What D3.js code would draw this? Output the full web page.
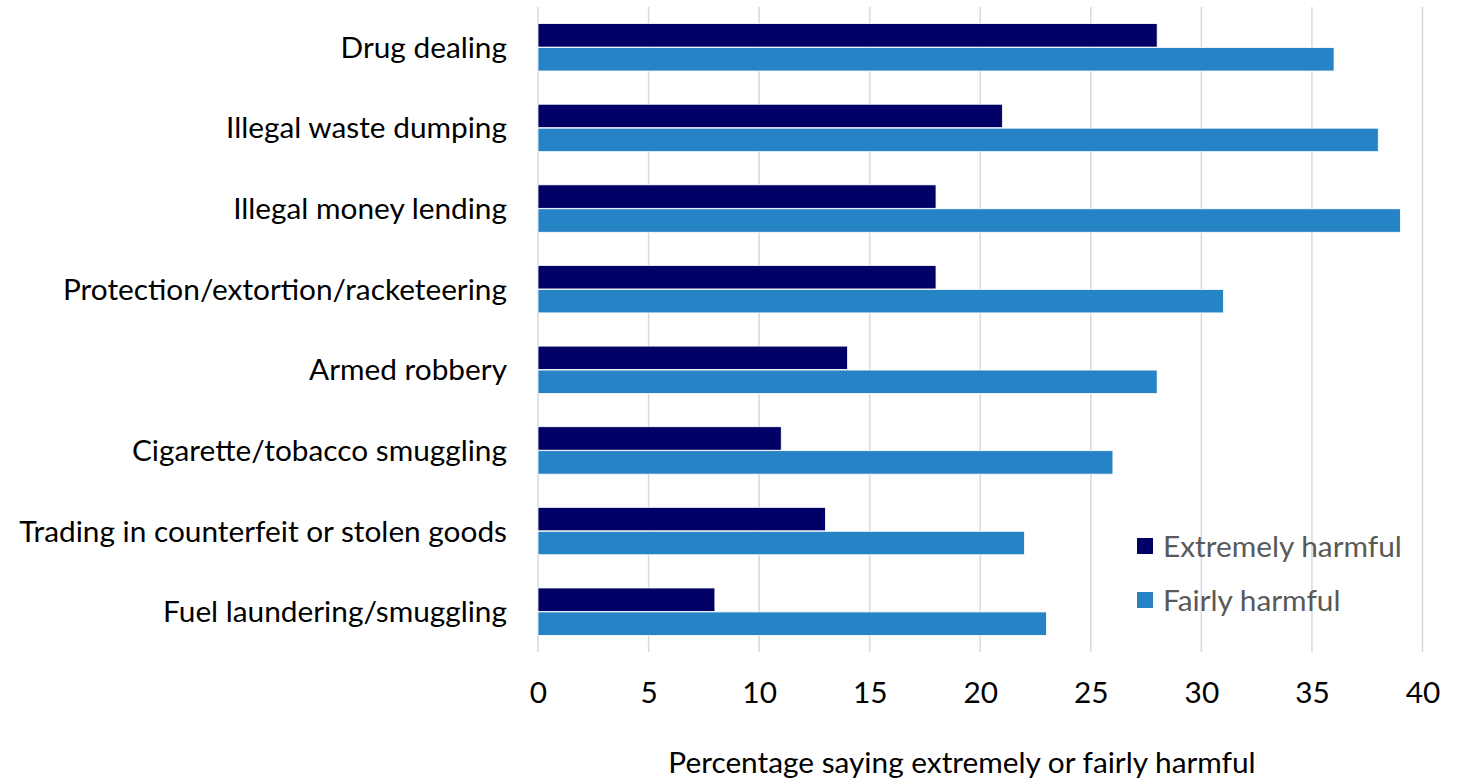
<!DOCTYPE html>
<html>
<head>
<meta charset="utf-8">
<script src="https://cdn.jsdelivr.net/npm/d3@7"></script>
<style>
  html, body { margin: 0; padding: 0; background: #fff; }
  svg { display: block; font-family: Lato, "Open Sans", sans-serif; }
</style>
</head>
<body>
<svg id="chart" width="1468" height="779"></svg>
<script>
const categories = [
  "Drug dealing",
  "Illegal waste dumping",
  "Illegal money lending",
  "Protection/extortion/racketeering",
  "Armed robbery",
  "Cigarette/tobacco smuggling",
  "Trading in counterfeit or stolen goods",
  "Fuel laundering/smuggling"
];
const extremelyHarmful = [28, 21, 18, 18, 14, 11, 13, 8];
const fairlyHarmful = [36, 38, 39, 31, 28, 26, 22, 23];
const seriesNames = ["Extremely harmful", "Fairly harmful"];
const seriesColors = ["#000066", "#2683c6"];
const xTicks = [0, 5, 10, 15, 20, 25, 30, 35, 40];
const xTitle = "Percentage saying extremely or fairly harmful";

const svg = d3.select("#chart");
const plotLeft = 538, plotRight = 1422.5, plotTop = 7, plotBottom = 652;
const fontSize = 29.8;

const x = d3.scaleLinear().domain([0, 40]).range([plotLeft, plotRight]);
const y = d3.scaleBand().domain(categories).range([plotTop, plotBottom]).paddingInner(0.4).paddingOuter(0.2);
const ySub = d3.scaleBand().domain(seriesNames).range([0, y.bandwidth()]).padding(0.02);

// vertical gridlines
svg.append("g")
  .selectAll("line")
  .data(xTicks)
  .join("line")
  .attr("x1", d => x(d)).attr("x2", d => x(d))
  .attr("y1", plotTop).attr("y2", plotBottom)
  .attr("stroke", "#d9d9d9")
  .attr("stroke-width", 1.5);

const rows = categories.map((c, i) => ({ c, vals: [extremelyHarmful[i], fairlyHarmful[i]] }));

const groups = svg.append("g")
  .selectAll("g")
  .data(rows)
  .join("g")
  .attr("transform", d => `translate(0,${y(d.c)})`);

groups.selectAll("rect")
  .data(d => d.vals.map((v, j) => ({ v, s: seriesNames[j], col: seriesColors[j] })))
  .join("rect")
  .attr("x", x(0))
  .attr("y", d => ySub(d.s))
  .attr("width", d => x(d.v) - x(0))
  .attr("height", ySub.bandwidth())
  .attr("fill", d => d.col)
  .attr("stroke", "#fff")
  .attr("stroke-width", 0.8);

// category labels
svg.append("g")
  .selectAll("text")
  .data(categories)
  .join("text")
  .attr("x", 507)
  .attr("y", d => y(d) + y.bandwidth() / 2 - 1)
  .attr("text-anchor", "end")
  .attr("dominant-baseline", "central")
  .attr("font-size", fontSize)
  .attr("fill", "#000")
  .text(d => d);

// x tick labels
const xAxis = d3.axisBottom(x).tickValues(xTicks).tickSize(0).tickPadding(0);
const ax = svg.append("g").attr("transform", `translate(0,${plotBottom})`).call(xAxis);
ax.select(".domain").remove();
ax.selectAll("text")
  .attr("y", 51)
  .attr("dy", 0)
  .attr("font-size", fontSize)
  .attr("font-family", "Lato, 'Open Sans', sans-serif")
  .attr("fill", "#000");

// axis title
svg.append("text")
  .attr("x", 962)
  .attr("y", 773)
  .attr("text-anchor", "middle")
  .attr("font-size", fontSize)
  .attr("fill", "#000")
  .text(xTitle);

// legend
const legend = svg.append("g");
seriesNames.forEach((s, i) => {
  const ly = 545 + i * 54;
  legend.append("rect")
    .attr("x", 1137).attr("y", ly - 7)
    .attr("width", 16).attr("height", 16)
    .attr("fill", seriesColors[i]);
  legend.append("text")
    .attr("x", 1163).attr("y", ly)
    .attr("dominant-baseline", "central")
    .attr("font-size", fontSize)
    .attr("fill", "#595959")
    .text(s);
});
</script>
</body>
</html>
